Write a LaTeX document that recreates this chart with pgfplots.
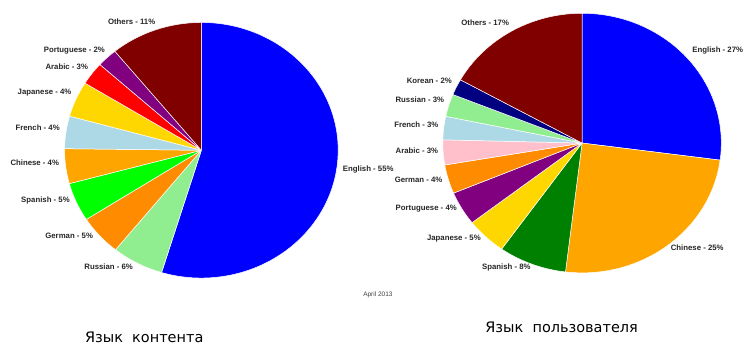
\documentclass[border=0pt]{standalone}
\usepackage{fontspec}
\setmainfont{Liberation Sans}
\newfontfamily\dejavu{DejaVu Sans}
\usepackage{pgfplots}
\usepackage{pgfplotstable}
\pgfplotsset{compat=1.18}

\definecolor{cBlue}{RGB}{0,0,255}
\definecolor{cLgreen}{RGB}{144,238,144}
\definecolor{cDorange}{RGB}{255,140,0}
\definecolor{cLime}{RGB}{0,255,0}
\definecolor{cOrange}{RGB}{255,165,0}
\definecolor{cLblue}{RGB}{173,216,230}
\definecolor{cGold}{RGB}{255,215,0}
\definecolor{cRed}{RGB}{255,0,0}
\definecolor{cPurple}{RGB}{128,0,128}
\definecolor{cMaroon}{RGB}{128,0,0}
\definecolor{cGreen}{RGB}{0,128,0}
\definecolor{cPink}{RGB}{255,192,203}
\definecolor{cNavy}{RGB}{0,0,128}

% content language (share in %), label, colour, label position
\pgfplotstableread{
name       pct val  col      lx    ly    anc
English    55  54.7 cBlue    343.3 169.3 west
Russian    6   6.1  cLgreen  133.3 266.7 east
German     5   5.1  cDorange 93.3  236.7 east
Spanish    5   4.9  cLime    70.0  201.0 east
Chinese    4   4.4  cOrange  59.3  163.3 east
French     4   4.1  cLblue   60.0  127.7 east
Japanese   4   4.5  cGold    71.7  92.3  east
Arabic     3   2.9  cRed     88.3  66.7  east
Portuguese 2   2.4  cPurple  105.3 50.7  east
Others     11  10.9 cMaroon  155.7 21.7  east
}\contentdata

% user language
\pgfplotstableread{
name       pct val  col      lx    ly    anc
English    27  27.1 cBlue    693.3 50.7  west
Chinese    25  24.8 cOrange  671.7 248.3 west
Spanish    8   7.9  cGreen   531.7 268.3 east
Japanese   5   4.7  cGold    481.7 239.3 east
Portuguese 4   4.2  cPurple  457.7 209.3 east
German     4   3.6  cDorange 443.3 180.0 east
Arabic     3   3.1  cPink    439.0 150.7 east
French     3   2.9  cLblue   439.3 125.0 east
Russian    3   2.8  cLgreen  445.0 100.0 east
Korean     2   2.0  cNavy    452.7 81.0  east
Others     17  16.9 cMaroon  510.0 22.7  east
}\userdata

% #1 table, #2 cx, #3 cy, #4 rx, #5 ry
\newcommand\drawpie[5]{%
  \pgfplotstablegetrowsof{#1}%
  \pgfmathtruncatemacro\lastrow{\pgfplotsretval-1}%
  \def\cum{0}%
  \pgfplotsforeachungrouped \i in {0,...,\lastrow}{%
    \pgfplotstablegetelem{\i}{val}\of{#1}\let\v\pgfplotsretval
    \pgfplotstablegetelem{\i}{col}\of{#1}\let\c\pgfplotsretval
    \pgfmathsetmacro\sa{90-3.6*\cum}%
    \pgfmathsetmacro\ea{90-3.6*(\cum+\v)}%
    \edef\temp{\noexpand\fill[\c, draw=white, line width=0.5pt, line join=round]
      (axis cs:#2,#3) -- ++(\sa:#4pt and #5pt)
      arc[start angle=\sa, end angle=\ea, x radius=#4pt, y radius=#5pt] -- cycle;}%
    \temp
    \pgfmathsetmacro\cum{\cum+\v}%
  }%
  \pgfplotsforeachungrouped \i in {0,...,\lastrow}{%
    \pgfplotstablegetelem{\i}{name}\of{#1}\let\nm\pgfplotsretval
    \pgfplotstablegetelem{\i}{pct}\of{#1}\let\pc\pgfplotsretval
    \pgfplotstablegetelem{\i}{lx}\of{#1}\let\lx\pgfplotsretval
    \pgfplotstablegetelem{\i}{ly}\of{#1}\let\ly\pgfplotsretval
    \pgfplotstablegetelem{\i}{anc}\of{#1}\let\an\pgfplotsretval
    \edef\temp{\noexpand\node[anchor=\an, inner sep=0pt, font=\noexpand\fontsize{7.8}{9}\noexpand\selectfont\noexpand\bfseries, text=black!85]
      at (axis cs:\lx,\ly) {\nm\space-\space\pc\noexpand\%};}%
    \temp
  }%
}

\begin{document}
\begin{tikzpicture}
\begin{axis}[
  width=743pt, height=347pt, scale only axis,
  xmin=0, xmax=743, ymin=0, ymax=347, y dir=reverse,
  hide axis, clip=false,
]
\path (rel axis cs:0,0) rectangle (rel axis cs:1,1);
\drawpie{\contentdata}{201.7}{150.5}{137}{128}
\drawpie{\userdata}{583.0}{143.3}{139.5}{130}
\node[font=\fontsize{6.5}{7}\selectfont, text=black!75] at (axis cs:378.5,295) {April 2013};
\node[font=\dejavu\fontsize{14.5}{16}\selectfont, anchor=west, inner sep=0pt] at (axis cs:85,338.3) {Язык\ \ контента};
\node[font=\dejavu\fontsize{14.5}{16}\selectfont, anchor=west, inner sep=0pt] at (axis cs:486,328.3) {Язык\ \ пользователя};
\end{axis}
\end{tikzpicture}
\end{document}
